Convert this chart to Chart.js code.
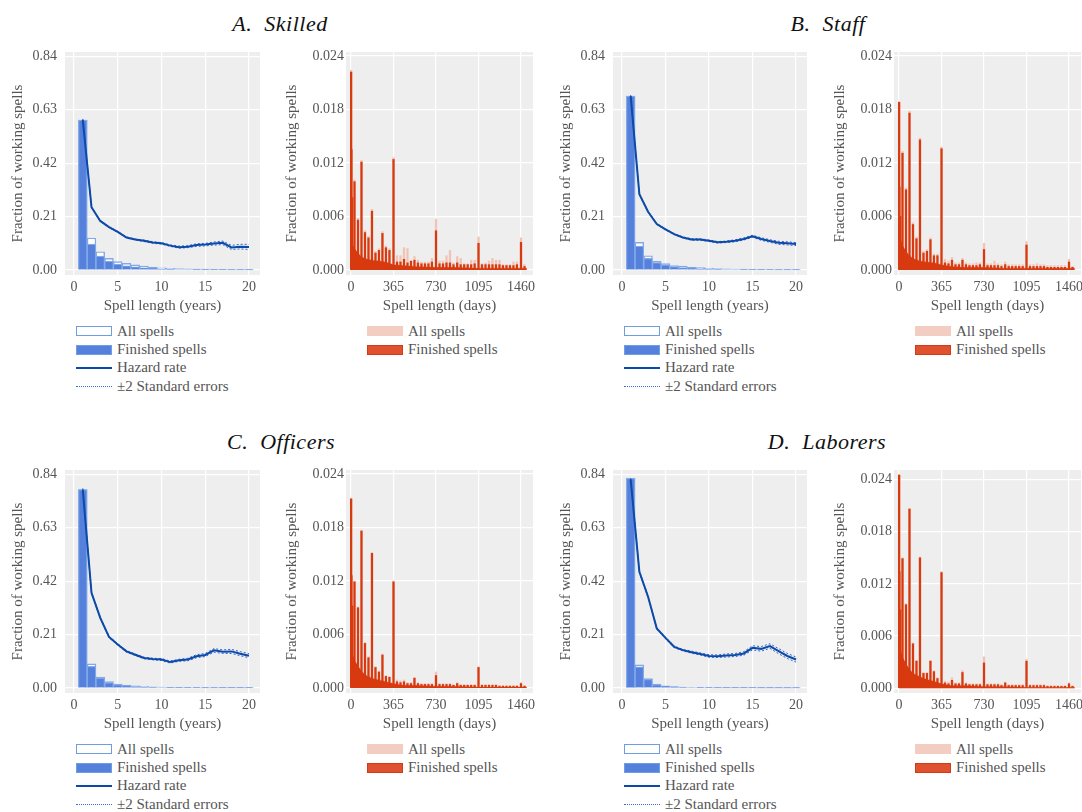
<!DOCTYPE html>
<html>
<head>
<meta charset="utf-8">
<script src="https://cdn.jsdelivr.net/npm/chart.js@4.4.0/dist/chart.umd.min.js"></script>
<style>
body{margin:0;width:1082px;height:812px;overflow:hidden;background:#fff;position:relative;font-family:"Liberation Serif","Times New Roman",Times,"DejaVu Serif",serif;}
canvas{position:absolute;}
.title{position:absolute;font-style:italic;font-size:22px;line-height:22px;color:#111;transform:translateX(-50%);white-space:nowrap;word-spacing:6px;letter-spacing:0.5px;}
.legend{position:absolute;font-size:15px;color:#555;}
.legend div{height:18.4px;display:flex;align-items:center;white-space:nowrap;}
.legend i{display:inline-block;width:36px;margin-right:5px;box-sizing:border-box;}
.b-all{height:10px;background:#fff;border:1.3px solid #6f9de2;}
.b-fin{height:10px;background:#5580dc;border:1.3px solid #6f9de2;}
.b-haz{height:0;border-top:2px solid #0c4aa8;}
.b-se{height:0;border-top:1.3px dotted #3a6ee0;}
.r-all{height:10px;background:#f4cdc2;}
.r-fin{height:10px;background:#e0522f;border:1.3px solid #d13b16;}
</style>
</head>
<body>

<div class="title" style="left:280px;top:13px">A. Skilled</div>
<div class="title" style="left:828px;top:13px">B. Staff</div>
<div class="title" style="left:281px;top:431px">C. Officers</div>
<div class="title" style="left:827px;top:431px">D. Laborers</div>

<canvas id="skilledYears" width="270" height="279" style="left:0;top:40px"></canvas>
<canvas id="skilledDays" width="264" height="279" style="left:281px;top:40px"></canvas>
<canvas id="staffYears" width="269" height="279" style="left:548px;top:40px"></canvas>
<canvas id="staffDays" width="264" height="279" style="left:829px;top:40px"></canvas>
<canvas id="officersYears" width="270" height="279" style="left:0;top:458px"></canvas>
<canvas id="officersDays" width="264" height="279" style="left:281px;top:458px"></canvas>
<canvas id="laborersYears" width="269" height="279" style="left:548px;top:458px"></canvas>
<canvas id="laborersDays" width="264" height="279" style="left:829px;top:458px"></canvas>

<div class="legend" style="left:76px;top:322px">
  <div><i class="b-all"></i>All spells</div>
  <div><i class="b-fin"></i>Finished spells</div>
  <div><i class="b-haz"></i>Hazard rate</div>
  <div><i class="b-se"></i>±2 Standard errors</div>
</div>
<div class="legend" style="left:367px;top:322px">
  <div><i class="r-all"></i>All spells</div>
  <div><i class="r-fin"></i>Finished spells</div>
</div>
<div class="legend" style="left:624px;top:322px">
  <div><i class="b-all"></i>All spells</div>
  <div><i class="b-fin"></i>Finished spells</div>
  <div><i class="b-haz"></i>Hazard rate</div>
  <div><i class="b-se"></i>±2 Standard errors</div>
</div>
<div class="legend" style="left:915px;top:322px">
  <div><i class="r-all"></i>All spells</div>
  <div><i class="r-fin"></i>Finished spells</div>
</div>
<div class="legend" style="left:76px;top:740px">
  <div><i class="b-all"></i>All spells</div>
  <div><i class="b-fin"></i>Finished spells</div>
  <div><i class="b-haz"></i>Hazard rate</div>
  <div><i class="b-se"></i>±2 Standard errors</div>
</div>
<div class="legend" style="left:367px;top:740px">
  <div><i class="r-all"></i>All spells</div>
  <div><i class="r-fin"></i>Finished spells</div>
</div>
<div class="legend" style="left:624px;top:740px">
  <div><i class="b-all"></i>All spells</div>
  <div><i class="b-fin"></i>Finished spells</div>
  <div><i class="b-haz"></i>Hazard rate</div>
  <div><i class="b-se"></i>±2 Standard errors</div>
</div>
<div class="legend" style="left:915px;top:740px">
  <div><i class="r-all"></i>All spells</div>
  <div><i class="r-fin"></i>Finished spells</div>
</div>

<script>
// axes
const years = [1,2,3,4,5,6,7,8,9,10,11,12,13,14,15,16,17,18,19,20];
const yearTicks = [0,5,10,15,20];
const fracTicks = [0,0.21,0.42,0.63,0.84];
const dayTicks = [0,365,730,1095,1460];
const dailyTicks = [0,0.006,0.012,0.018,0.024];

// yearly histograms and hazard rates
const skilledAll = [0.589,0.126,0.072,0.046,0.033,0.026,0.020,0.016,0.012,0.009,0.007,0.006,0.005,0.004,0.004,0.003,0.003,0.002,0.002,0.0015];
const skilledFinished = [0.589,0.102,0.055,0.035,0.023,0.017,0.013,0.009,0.007,0.004,0.003,0.002,0.002,0.0015,0.001,0.001,0.001,0.0008,0.0005,0.0004];
const skilledHazard = [0.590,0.247,0.193,0.169,0.150,0.128,0.120,0.115,0.108,0.105,0.096,0.090,0.092,0.098,0.100,0.104,0.107,0.089,0.092,0.091];
const skilledLower = [0.586,0.245,0.191,0.167,0.148,0.126,0.118,0.112,0.105,0.102,0.093,0.086,0.088,0.093,0.095,0.098,0.100,0.081,0.083,0.081];
const skilledUpper = [0.594,0.249,0.195,0.171,0.152,0.130,0.122,0.118,0.111,0.108,0.099,0.094,0.096,0.103,0.105,0.110,0.114,0.097,0.101,0.101];

const staffAll = [0.684,0.109,0.056,0.034,0.025,0.018,0.016,0.012,0.010,0.008,0.006,0.005,0.004,0.004,0.003,0.003,0.002,0.002,0.002,0.001];
const staffFinished = [0.684,0.094,0.046,0.029,0.020,0.014,0.010,0.007,0.005,0.004,0.003,0.002,0.002,0.0015,0.001,0.001,0.001,0.0007,0.0005,0.0004];
const staffHazard = [0.684,0.298,0.229,0.181,0.160,0.141,0.128,0.120,0.120,0.115,0.109,0.111,0.115,0.122,0.133,0.122,0.114,0.107,0.105,0.102];
const staffLower = [0.680,0.296,0.227,0.179,0.158,0.139,0.126,0.117,0.117,0.112,0.106,0.108,0.111,0.118,0.129,0.117,0.109,0.101,0.099,0.096];
const staffUpper = [0.688,0.300,0.231,0.183,0.162,0.143,0.130,0.123,0.123,0.118,0.112,0.114,0.119,0.126,0.137,0.127,0.119,0.113,0.111,0.108];

const officersAll = [0.780,0.095,0.043,0.025,0.016,0.012,0.009,0.007,0.005,0.004,0.003,0.003,0.002,0.002,0.002,0.002,0.0015,0.0015,0.001,0.001];
const officersFinished = [0.780,0.085,0.039,0.021,0.013,0.009,0.006,0.004,0.003,0.002,0.0015,0.0012,0.001,0.001,0.0008,0.0007,0.0006,0.0005,0.0004,0.0003];
const officersHazard = [0.780,0.374,0.276,0.201,0.171,0.144,0.131,0.118,0.114,0.112,0.102,0.109,0.112,0.125,0.130,0.148,0.143,0.144,0.135,0.127];
const officersLower = [0.775,0.371,0.273,0.198,0.168,0.141,0.128,0.115,0.111,0.108,0.098,0.105,0.107,0.119,0.124,0.141,0.136,0.136,0.127,0.119];
const officersUpper = [0.785,0.377,0.279,0.204,0.174,0.147,0.134,0.121,0.117,0.116,0.106,0.113,0.117,0.131,0.136,0.155,0.150,0.152,0.143,0.135];

const laborersAll = [0.824,0.091,0.037,0.016,0.009,0.006,0.004,0.003,0.002,0.002,0.0015,0.0012,0.001,0.001,0.001,0.0008,0.0007,0.0006,0.0005,0.0004];
const laborersFinished = [0.824,0.083,0.034,0.013,0.007,0.005,0.003,0.002,0.0015,0.001,0.0008,0.0006,0.0005,0.0005,0.0004,0.0003,0.0003,0.0002,0.0002,0.0002];
const laborersHazard = [0.820,0.457,0.359,0.234,0.197,0.162,0.149,0.141,0.134,0.126,0.125,0.128,0.130,0.136,0.158,0.154,0.165,0.145,0.126,0.112];
const laborersLower = [0.815,0.453,0.355,0.231,0.194,0.159,0.146,0.137,0.130,0.121,0.120,0.122,0.124,0.129,0.150,0.145,0.156,0.135,0.116,0.102];
const laborersUpper = [0.825,0.461,0.363,0.237,0.200,0.165,0.152,0.145,0.138,0.131,0.130,0.134,0.136,0.143,0.166,0.163,0.174,0.155,0.136,0.122];

// daily histograms: spikes at round durations plus the dense floor underneath
const spikeDays = [1,3,10,30,60,90,120,150,180,210,240,270,300,330,365,
  395,425,455,485,515,545,575,605,635,665,695,730,
  760,790,820,850,880,912,942,972,1002,1032,1062,1095,
  1125,1155,1185,1215,1245,1275,1305,1335,1365,1395,1425,1460,1490];
const floorDays = [0,15,30,60,90,120,180,240,300,365,450,550,730,900,1095,1300,1460,1510];

const skilledSpikeFinished = [0.0222,0.0135,0.0081,0.0099,0.0056,0.0121,0.0042,0.0036,0.0066,0.0019,0.0022,0.0041,0.0025,0.0022,0.0124,
  0.0009,0.0009,0.0012,0.0008,0.0010,0.0011,0.0008,0.0007,0.0007,0.0007,0.0009,0.0044,
  0.0007,0.0007,0.0008,0.0008,0.0006,0.0008,0.0006,0.0006,0.0006,0.0006,0.0007,0.0030,
  0.0006,0.0006,0.0006,0.0006,0.0006,0.0006,0.0005,0.0005,0.0005,0.0005,0.0006,0.0031,0.0004];
const skilledSpikeAll = [0.0224,0.0137,0.0084,0.0101,0.0058,0.0123,0.0044,0.0038,0.0068,0.0021,0.0024,0.0043,0.0027,0.0024,0.0126,
  0.0016,0.0016,0.0025,0.0024,0.0010,0.0015,0.0011,0.0009,0.0009,0.0009,0.0013,0.0057,
  0.0010,0.0010,0.0016,0.0022,0.0008,0.0015,0.0013,0.0007,0.0007,0.0011,0.0011,0.0037,
  0.0007,0.0008,0.0010,0.0013,0.0011,0.0011,0.0006,0.0006,0.0006,0.0009,0.0009,0.0036,0.0006];
const skilledFloorFinished = [0.0034,0.0029,0.0024,0.0019,0.0015,0.0013,0.0011,0.0010,0.0009,0.0006,0.0005,0.0004,0.0003,0.0003,0.0002,0.0002,0.0002,0.0002];
const skilledFloorAll = [0.0035,0.0030,0.0025,0.0020,0.0016,0.0014,0.0012,0.0011,0.0010,0.0007,0.0006,0.0005,0.0004,0.0004,0.0003,0.0003,0.0003,0.0003];

const staffSpikeFinished = [0.0188,0.0093,0.0060,0.0131,0.0090,0.0176,0.0051,0.0035,0.0146,0.0019,0.0021,0.0034,0.0016,0.0016,0.0136,
  0.0008,0.0007,0.0011,0.0006,0.0006,0.0011,0.0006,0.0005,0.0005,0.0005,0.0006,0.0023,
  0.0005,0.0005,0.0005,0.0005,0.0004,0.0006,0.0004,0.0004,0.0004,0.0004,0.0004,0.0028,
  0.0004,0.0004,0.0004,0.0004,0.0004,0.0003,0.0003,0.0003,0.0003,0.0003,0.0003,0.0009,0.0003];
const staffSpikeAll = [0.0189,0.0094,0.0062,0.0133,0.0092,0.0178,0.0053,0.0037,0.0148,0.0021,0.0023,0.0036,0.0018,0.0018,0.0138,
  0.0012,0.0010,0.0014,0.0008,0.0008,0.0013,0.0008,0.0007,0.0007,0.0008,0.0008,0.0030,
  0.0007,0.0007,0.0010,0.0007,0.0006,0.0009,0.0006,0.0006,0.0006,0.0006,0.0006,0.0032,
  0.0006,0.0006,0.0007,0.0006,0.0006,0.0005,0.0005,0.0005,0.0005,0.0005,0.0005,0.0012,0.0004];
const staffFloorFinished = [0.0042,0.0035,0.0028,0.0021,0.0016,0.0013,0.0010,0.0009,0.0008,0.0006,0.0004,0.0003,0.0003,0.0002,0.0002,0.0002,0.0002,0.0002];
const staffFloorAll = [0.0043,0.0036,0.0029,0.0022,0.0017,0.0014,0.0011,0.0010,0.0009,0.0007,0.0005,0.0004,0.0004,0.0003,0.0003,0.0003,0.0003,0.0003];

const officersSpikeFinished = [0.0212,0.0126,0.0092,0.0119,0.0090,0.0176,0.0050,0.0034,0.0151,0.0023,0.0018,0.0037,0.0013,0.0012,0.0119,
  0.0007,0.0006,0.0007,0.0005,0.0005,0.0011,0.0005,0.0004,0.0004,0.0004,0.0004,0.0014,
  0.0004,0.0004,0.0004,0.0004,0.0003,0.0005,0.0003,0.0003,0.0003,0.0003,0.0003,0.0023,
  0.0003,0.0003,0.0003,0.0003,0.0003,0.0002,0.0002,0.0002,0.0002,0.0002,0.0002,0.0005,0.0002];
const officersSpikeAll = [0.0213,0.0127,0.0093,0.0120,0.0091,0.0177,0.0051,0.0035,0.0152,0.0024,0.0019,0.0038,0.0014,0.0013,0.0120,
  0.0009,0.0008,0.0009,0.0006,0.0006,0.0012,0.0006,0.0005,0.0005,0.0005,0.0005,0.0018,
  0.0005,0.0005,0.0005,0.0005,0.0004,0.0006,0.0004,0.0004,0.0004,0.0004,0.0004,0.0024,
  0.0004,0.0004,0.0004,0.0004,0.0004,0.0003,0.0003,0.0003,0.0003,0.0003,0.0003,0.0006,0.0003];
const officersFloorFinished = [0.0047,0.0038,0.0031,0.0025,0.0019,0.0015,0.0011,0.0009,0.0007,0.0005,0.0003,0.0003,0.0002,0.0002,0.0001,0.0001,0.0001,0.0001];
const officersFloorAll = [0.0048,0.0039,0.0032,0.0026,0.0020,0.0016,0.0012,0.0010,0.0008,0.0006,0.0004,0.0004,0.0003,0.0003,0.0002,0.0002,0.0002,0.0002];

const laborersSpikeFinished = [0.0245,0.0134,0.0090,0.0149,0.0096,0.0206,0.0051,0.0031,0.0150,0.0017,0.0017,0.0031,0.0019,0.0011,0.0133,
  0.0006,0.0005,0.0009,0.0005,0.0005,0.0018,0.0005,0.0004,0.0004,0.0004,0.0004,0.0029,
  0.0004,0.0004,0.0004,0.0004,0.0003,0.0006,0.0003,0.0003,0.0003,0.0003,0.0003,0.0031,
  0.0003,0.0003,0.0003,0.0003,0.0003,0.0002,0.0002,0.0002,0.0002,0.0002,0.0002,0.0005,0.0002];
const laborersSpikeAll = [0.0246,0.0135,0.0091,0.0150,0.0097,0.0207,0.0052,0.0032,0.0151,0.0018,0.0018,0.0032,0.0020,0.0012,0.0134,
  0.0008,0.0007,0.0012,0.0006,0.0006,0.0020,0.0006,0.0005,0.0005,0.0005,0.0005,0.0036,
  0.0005,0.0005,0.0005,0.0005,0.0004,0.0007,0.0004,0.0004,0.0004,0.0004,0.0004,0.0033,
  0.0004,0.0004,0.0004,0.0004,0.0004,0.0003,0.0003,0.0003,0.0003,0.0003,0.0003,0.0006,0.0003];
const laborersFloorFinished = [0.0057,0.0044,0.0036,0.0028,0.0022,0.0017,0.0013,0.0010,0.0008,0.0005,0.0003,0.0003,0.0002,0.0002,0.0001,0.0001,0.0001,0.0001];
const laborersFloorAll = [0.0058,0.0045,0.0037,0.0029,0.0023,0.0018,0.0014,0.0011,0.0009,0.0006,0.0004,0.0004,0.0003,0.0003,0.0002,0.0002,0.0002,0.0002];

const FONT = "'Liberation Serif', 'Times New Roman', Times, 'DejaVu Serif', serif";
const GREY = "#555";

const panelBg = {
  id: "panelBg",
  beforeDraw(c) {
    const a = c.chartArea, ctx = c.ctx;
    ctx.save();
    ctx.fillStyle = "#eeeeee";
    ctx.fillRect(a.left, a.top, a.right - a.left, a.bottom - a.top);
    ctx.restore();
  }
};

function pts(xs, ys) { return xs.map((x, i) => ({x: x, y: ys[i]})); }

function axes(xr, yr, xt, yt, xTitle, digits, titlePad, tickPad, padRight) {
  return {
    responsive: false,
    animation: false,
    layout: {padding: {top: 12, right: padRight, left: 0, bottom: 0}},
    plugins: {legend: {display: false}, tooltip: {enabled: false}},
    scales: {
      x: {
        type: "linear", min: xr[0], max: xr[1], offset: false,
        afterBuildTicks: s => { s.ticks = xt.map(v => ({value: v})); },
        afterFit: s => { s.height = 44; s.paddingLeft = 0; s.paddingRight = 0; },
        grid: {color: "#ffffff", lineWidth: 1.2, drawTicks: false, offset: false},
        border: {display: false},
        ticks: {padding: 4, maxRotation: 0, color: GREY, font: {family: FONT, size: 14}, callback: v => String(v)},
        title: {display: true, text: xTitle, color: GREY, font: {family: FONT, size: 15}, padding: {top: 0, bottom: 4}}
      },
      y: {
        min: yr[0], max: yr[1],
        afterBuildTicks: s => { s.ticks = yt.map(v => ({value: v})); },
        afterFit: s => { s.width = 65; s.paddingTop = 0; s.paddingBottom = 0; },
        grid: {color: "#ffffff", lineWidth: 1.2, drawTicks: false},
        border: {display: false},
        ticks: {padding: tickPad, color: GREY, font: {family: FONT, size: 14}, callback: v => v.toFixed(digits)},
        title: {display: true, text: "Fraction of working spells", color: GREY, font: {family: FONT, size: 15}, padding: {top: titlePad, bottom: 0}}
      }
    }
  };
}

function yearsChart(id, all, fin, haz, lo, hi) {
  new Chart(document.getElementById(id), {
    type: "bar",
    data: {
      datasets: [
        {type: "line", data: pts(years, haz), borderColor: "#0c4aa8", borderWidth: 2, pointRadius: 0, order: 0},
        {type: "line", data: pts(years, lo), borderColor: "#2e63d2", borderWidth: 1, borderDash: [2, 2], pointRadius: 0, order: 1},
        {type: "line", data: pts(years, hi), borderColor: "#2e63d2", borderWidth: 1, borderDash: [2, 2], pointRadius: 0, order: 1},
        {data: pts(years, fin), backgroundColor: "#5580dc", borderColor: "#82a8e8", borderWidth: 1.2,
          grouped: false, categoryPercentage: 1, barPercentage: 1, order: 2},
        {data: pts(years, all), backgroundColor: "#ffffff", borderColor: "#82a8e8", borderWidth: 1.4,
          grouped: false, categoryPercentage: 1, barPercentage: 1, order: 3}
      ]
    },
    options: axes([-1.03, 21.26], [-0.0195, 0.857], yearTicks, fracTicks, "Spell length (years)", 2, 9, 8, 10),
    plugins: [panelBg]
  });
}

function daysChart(id, spikeAll, spikeFin, floorAll, floorFin, yMax) {
  new Chart(document.getElementById(id), {
    type: "bar",
    data: {
      datasets: [
        {data: pts(spikeDays, spikeFin), backgroundColor: "#d83a10", barThickness: 1.6, grouped: false, order: 0},
        {type: "line", data: pts(floorDays, floorFin), backgroundColor: "#d83a10", fill: "origin",
          borderWidth: 0, pointRadius: 0, order: 1},
        {data: pts(spikeDays, spikeAll), backgroundColor: "#f2c2b5", barThickness: 1.6, grouped: false, order: 2},
        {type: "line", data: pts(floorDays, floorAll), backgroundColor: "#f2c2b5", fill: "origin",
          borderWidth: 0, pointRadius: 0, order: 3}
      ]
    },
    options: axes([-43, 1563], [-0.00056, yMax], dayTicks, dailyTicks, "Spell length (days)", 3, 2, 2, 12),
    plugins: [panelBg]
  });
}

document.fonts.load("14px 'Liberation Serif'").finally(() => {
  yearsChart("skilledYears", skilledAll, skilledFinished, skilledHazard, skilledLower, skilledUpper);
  yearsChart("staffYears", staffAll, staffFinished, staffHazard, staffLower, staffUpper);
  yearsChart("officersYears", officersAll, officersFinished, officersHazard, officersLower, officersUpper);
  yearsChart("laborersYears", laborersAll, laborersFinished, laborersHazard, laborersLower, laborersUpper);

  daysChart("skilledDays", skilledSpikeAll, skilledSpikeFinished, skilledFloorAll, skilledFloorFinished, 0.02445);
  daysChart("staffDays", staffSpikeAll, staffSpikeFinished, staffFloorAll, staffFloorFinished, 0.02445);
  daysChart("officersDays", officersSpikeAll, officersSpikeFinished, officersFloorAll, officersFloorFinished, 0.02445);
  daysChart("laborersDays", laborersSpikeAll, laborersSpikeFinished, laborersFloorAll, laborersFloorFinished, 0.0251);
});
</script>
</body>
</html>
